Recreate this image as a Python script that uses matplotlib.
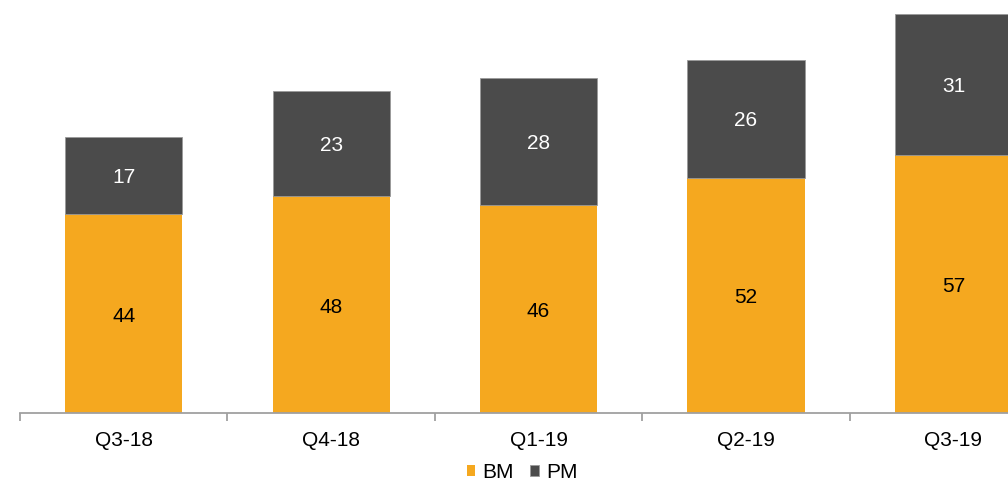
import matplotlib
matplotlib.use('Agg')
import matplotlib.pyplot as plt
import numpy as np

plt.rcParams['font.family'] = ['Liberation Sans', 'DejaVu Sans']

quarters = ['Q3-18', 'Q4-18', 'Q1-19', 'Q2-19', 'Q3-19']
bm = [44, 48, 46, 52, 57]
pm = [17, 23, 28, 26, 31]

orange = '#F5A81F'
dark = '#4B4B4B'

fig = plt.figure(figsize=(10.08, 4.84), dpi=100)
ax = fig.add_axes([20 / 1008, 71 / 484, 988 / 1008, 413 / 484])

x = np.arange(len(quarters))
w = 0.565
ax.bar(x, bm, w, color=orange, label='BM', zorder=2)
ax.bar(x, pm, w, bottom=bm, color=dark, label='PM', zorder=2,
       edgecolor='#9a9a9a', linewidth=0.6)

for i in range(len(quarters)):
    ax.text(x[i], bm[i] / 2 - 0.6, str(bm[i]), ha='center', va='center',
            fontsize=15, color='black')
    ax.text(x[i], bm[i] + pm[i] / 2 - 0.4, str(pm[i]), ha='center', va='center',
            fontsize=15, color='white')

ax.set_xlim(-0.5, 4.263)
ax.set_ylim(0, 91.2)

for s in ['top', 'right', 'left']:
    ax.spines[s].set_visible(False)
ax.spines['bottom'].set_color('#a0a0a0')
ax.spines['bottom'].set_linewidth(1.3)

ax.set_yticks([])
ax.set_xticks(x)
ax.set_xticklabels(quarters, fontsize=15)
ax.tick_params(axis='x', which='major', length=0, pad=13)
ax.set_xticks(np.arange(-0.5, 4.5, 1), minor=True)
ax.tick_params(axis='x', which='minor', length=6, width=1.3, color='#a0a0a0')

fig.legend(loc='center', bbox_to_anchor=(0.518, 0.024), ncol=2, frameon=False,
           fontsize=15, handlelength=0.4, handleheight=0.4, handletextpad=0.35,
           columnspacing=0.8, borderpad=0.2)

fig.savefig('out.png', dpi=100)
